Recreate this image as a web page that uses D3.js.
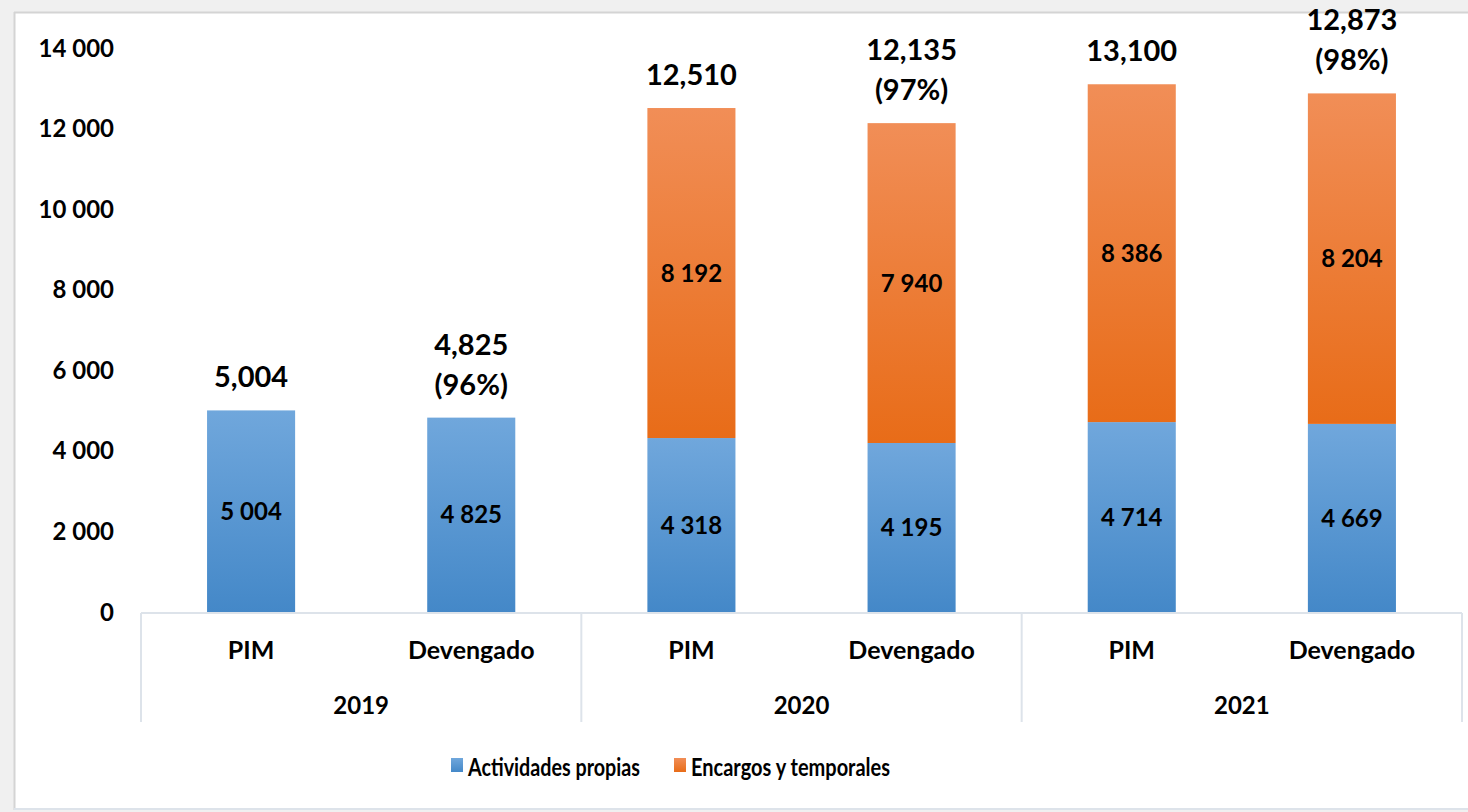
<!DOCTYPE html>
<html><head><meta charset="utf-8">
<script src="https://cdn.jsdelivr.net/npm/d3@7"></script>
<style>
html,body{margin:0;padding:0;background:#f0f0f0;}
svg{display:block;}
text{font-family:Lato,"Open Sans",sans-serif;font-weight:700;fill:#000;}
</style></head>
<body>
<svg id="chart" width="1468" height="812"></svg>
<script>
const categories = ["PIM","Devengado","PIM","Devengado","PIM","Devengado"];
const years = ["2019","2020","2021"];
const actividades = [5004,4825,4318,4195,4714,4669];
const encargos = [0,0,8192,7940,8386,8204];
const totalLabels = ["5,004","4,825","12,510","12,135","13,100","12,873"];
const pctLabels = ["","(96%)","","(97%)","","(98%)"];
const yTicks = [0,2000,4000,6000,8000,10000,12000,14000];
const seriesNames = ["Actividades propias","Encargos y temporales"];

const svg = d3.select("#chart");
const W = 1468, H = 812;

// chart area
svg.append("rect").attr("x",14).attr("y",12).attr("width",W-14).attr("height",797).attr("fill","#fff");
svg.append("line").attr("x1",14.5).attr("x2",14.5).attr("y1",12).attr("y2",810).attr("stroke","#d4d4d4").attr("stroke-width",2);
svg.append("line").attr("x1",14).attr("x2",W).attr("y1",12.5).attr("y2",12.5).attr("stroke","#d4d4d4").attr("stroke-width",2);
svg.append("line").attr("x1",14).attr("x2",W).attr("y1",809).attr("y2",809).attr("stroke","#dde3ea").attr("stroke-width",2);

const defs = svg.append("defs");
const gb = defs.append("linearGradient").attr("id","gBlue").attr("x1",0).attr("y1",0).attr("x2",0).attr("y2",1);
gb.append("stop").attr("offset","0%").attr("stop-color","#70a7dc");
gb.append("stop").attr("offset","100%").attr("stop-color","#4488c8");
const go = defs.append("linearGradient").attr("id","gOrange").attr("x1",0).attr("y1",0).attr("x2",0).attr("y2",1);
go.append("stop").attr("offset","0%").attr("stop-color","#f18e57");
go.append("stop").attr("offset","100%").attr("stop-color","#e86c18");

const idx = d3.range(categories.length);
const x = d3.scaleBand().domain(idx).range([141,1462]).paddingInner(0.6).paddingOuter(0.3);
const y = d3.scaleLinear().domain([0,14000]).range([612,48]);

// y tick labels
const fmtSpace = v => d3.format(",")(v).replace(/,/g," ");
svg.append("g").selectAll("text").data(yTicks).join("text")
  .attr("x",114).attr("y",d=>y(d)).attr("dy","0.36em").attr("text-anchor","end")
  .attr("font-size",24).text(d=>fmtSpace(d));

// bars
const stacked = idx.map(i=>({i, a:actividades[i], e:encargos[i]}));
svg.append("g").selectAll("rect").data(stacked).join("rect")
  .attr("x",d=>x(d.i)).attr("width",x.bandwidth())
  .attr("y",d=>y(d.a)).attr("height",d=>y(0)-y(d.a)).attr("fill","url(#gBlue)");
svg.append("g").selectAll("rect").data(stacked.filter(d=>d.e>0)).join("rect")
  .attr("x",d=>x(d.i)).attr("width",x.bandwidth())
  .attr("y",d=>y(d.a+d.e)).attr("height",d=>y(d.a)-y(d.a+d.e)).attr("fill","url(#gOrange)");

// segment labels
svg.append("g").selectAll("text").data(stacked).join("text")
  .attr("x",d=>x(d.i)+x.bandwidth()/2).attr("y",d=>(y(0)+y(d.a))/2).attr("dy","0.36em")
  .attr("text-anchor","middle").attr("font-size",24).text(d=>fmtSpace(d.a));
svg.append("g").selectAll("text").data(stacked.filter(d=>d.e>0)).join("text")
  .attr("x",d=>x(d.i)+x.bandwidth()/2).attr("y",d=>(y(d.a)+y(d.a+d.e))/2).attr("dy","0.36em")
  .attr("text-anchor","middle").attr("font-size",24).text(d=>fmtSpace(d.e));

// total labels
const tl = svg.append("g").selectAll("text").data(stacked).join("text")
  .attr("x",d=>x(d.i)+x.bandwidth()/2)
  .attr("y",d=>y(d.a+d.e) - 23 - (pctLabels[d.i] ? 40 : 0))
  .attr("text-anchor","middle").attr("font-size",29);
tl.append("tspan").text(d=>totalLabels[d.i]);
tl.append("tspan").attr("x",d=>x(d.i)+x.bandwidth()/2).attr("dy",40).text(d=>pctLabels[d.i]);

// category axis
const axisCol = "#dde3ea";
svg.append("line").attr("x1",141).attr("x2",1462).attr("y1",613).attr("y2",613).attr("stroke",axisCol).attr("stroke-width",2);
const step = x.step();
const groupEdges = [0,2,4].map(i=>x(i)-x.paddingOuter()*step).concat([x(5)+x.bandwidth()+x.paddingOuter()*step]);
svg.append("g").selectAll("line").data(groupEdges).join("line")
  .attr("x1",d=>d).attr("x2",d=>d).attr("y1",613).attr("y2",722).attr("stroke",axisCol).attr("stroke-width",2);
svg.append("g").selectAll("text").data(idx).join("text")
  .attr("x",i=>x(i)+x.bandwidth()/2).attr("y",650).attr("dy","0.36em").attr("text-anchor","middle")
  .attr("font-size",25).text(i=>categories[i]);
svg.append("g").selectAll("text").data(years).join("text")
  .attr("x",(d,k)=>(groupEdges[k]+groupEdges[k+1])/2).attr("y",705).attr("dy","0.36em").attr("text-anchor","middle")
  .attr("font-size",24).text(d=>d);

// legend
const legend = svg.append("g");
const legItems = [{name:seriesNames[0],fill:"url(#gBlue)",x:451,w:172},{name:seriesNames[1],fill:"url(#gOrange)",x:674,w:199}];
legItems.forEach(it=>{
  legend.append("rect").attr("x",it.x).attr("y",758).attr("width",12).attr("height",14).attr("fill",it.fill);
  legend.append("text").attr("x",it.x+17).attr("y",767).attr("dy","0.36em").attr("font-size",24)
    .attr("textLength",it.w).attr("lengthAdjust","spacingAndGlyphs").text(it.name);
});
</script>
</body></html>
